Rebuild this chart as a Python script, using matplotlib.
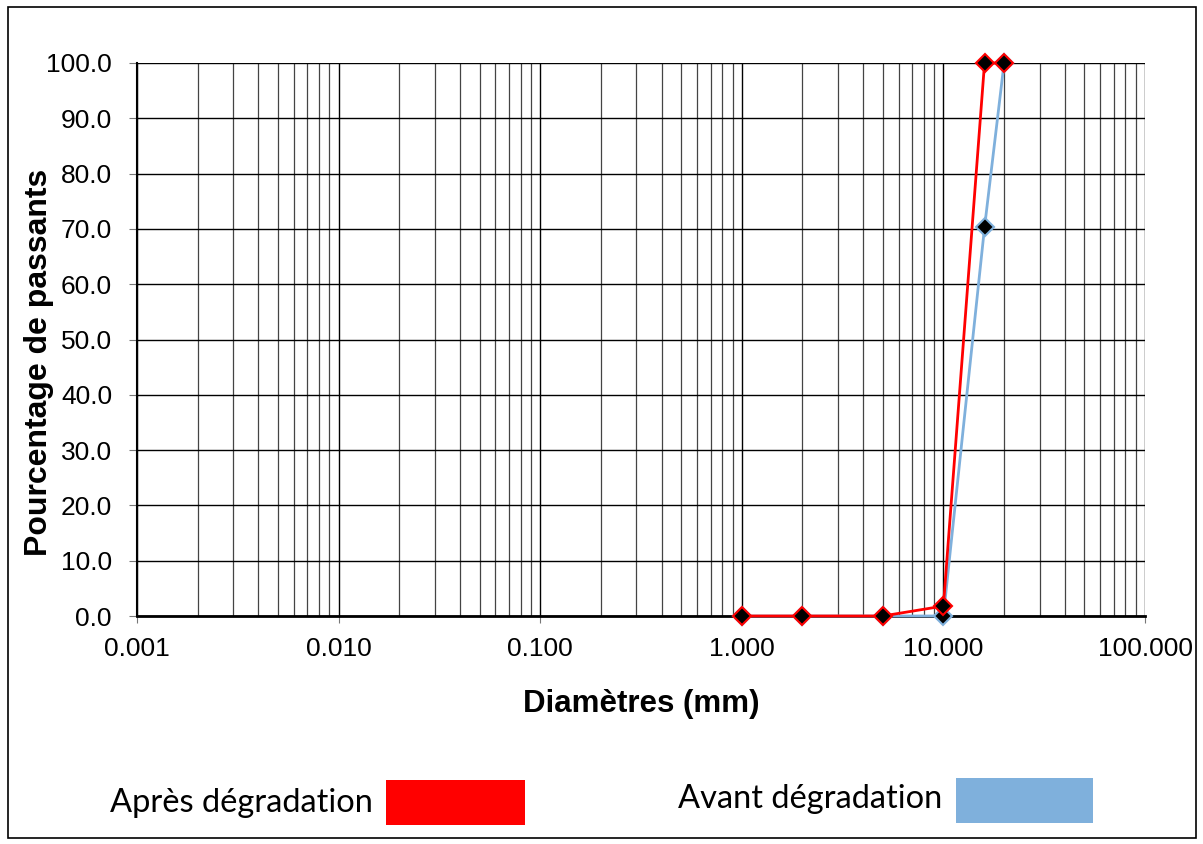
import numpy as np
import matplotlib
matplotlib.use("Agg")
import matplotlib.pyplot as plt
from matplotlib.patches import Rectangle
from matplotlib.ticker import FixedLocator, LogLocator, FuncFormatter, NullFormatter

plt.rcParams['font.family'] = ['Liberation Sans', 'DejaVu Sans']

# grain size curves
d_apres = [1.0, 2.0, 5.0, 10.0, 16.0, 20.0]
p_apres = [0.0, 0.0, 0.0, 1.8, 100.0, 100.0]
d_avant = [1.0, 2.0, 5.0, 10.0, 16.0, 20.0]
p_avant = [0.0, 0.0, 0.0, 0.0, 70.3, 100.0]

x_ticks = [0.001, 0.01, 0.1, 1, 10, 100]
x_labels = ["0.001", "0.010", "0.100", "1.000", "10.000", "100.000"]

W, H = 1203, 844
fig = plt.figure(figsize=(W / 100, H / 100), dpi=100)
ax = fig.add_axes([137 / W, 1 - 616 / H, (1145 - 137) / W, (616 - 63) / H])

ax.set_xscale("log")
ax.set_xlim(0.001, 100)
ax.set_ylim(0, 100)

ax.xaxis.set_major_locator(FixedLocator(x_ticks))
ax.set_xticklabels(x_labels)
ax.xaxis.set_minor_locator(LogLocator(base=10, subs=np.arange(2, 10)))
ax.xaxis.set_minor_formatter(NullFormatter())
ax.set_yticks(np.arange(0, 101, 10))
ax.yaxis.set_major_formatter(FuncFormatter(lambda v, p: f"{v:.1f}"))

ax.grid(True, which="major", axis="both", color="black", lw=1.0)
ax.grid(True, which="minor", axis="x", color="#444444", lw=0.9)
ax.set_axisbelow(True)

ax.tick_params(axis="both", which="major", labelsize=19, length=6, color="#777777", direction="out")
ax.tick_params(axis="x", which="major", length=5, pad=10)
ax.tick_params(axis="x", which="minor", length=0)
ax.tick_params(axis="y", pad=12)
for s in ["top", "right"]:
    ax.spines[s].set_visible(False)
ax.spines["left"].set_color("black")
ax.spines["left"].set_linewidth(1.5)
ax.spines["bottom"].set_color("black")
ax.spines["bottom"].set_linewidth(2)

ax.plot(d_avant, p_avant, color="#7fb0dc", lw=2, marker="D", ms=9,
        mfc="black", mec="#7fb0dc", mew=1.5, zorder=3, clip_on=False)
ax.plot(d_apres, p_apres, color="red", lw=2, marker="D", ms=9,
        mfc="black", mec="red", mew=1.5, zorder=4, clip_on=False)

ax.set_xlabel("Diamètres (mm)", fontsize=22.5, fontweight="bold", labelpad=20)
ax.set_ylabel("Pourcentage de passants", fontsize=23, fontweight="bold")
ax.yaxis.set_label_coords(-0.082, 0.459)

# legend drawn as text and colour boxes below the chart
leg_font = ['Lato', 'DejaVu Sans']
fig.text(110 / W, 1 - 803 / H, "Après dégradation", fontsize=23.5, family=leg_font,
         ha="left", va="center")
fig.patches.append(Rectangle((386 / W, 1 - 825 / H), (525 - 386) / W, 45 / H,
                             transform=fig.transFigure, facecolor="red", edgecolor="none"))
fig.text(678 / W, 1 - 799 / H, "Avant dégradation", fontsize=23.5, family=leg_font,
         ha="left", va="center")
fig.patches.append(Rectangle((956 / W, 1 - 823 / H), (1093 - 956) / W, 45 / H,
                             transform=fig.transFigure, facecolor="#7fb0dc", edgecolor="none"))

# outer frame
fig.patches.append(Rectangle((8 / W, 1 - 838 / H), (1196 - 8) / W, (838 - 7) / H,
                             transform=fig.transFigure, fill=False, edgecolor="black", lw=1.2))

fig.savefig("out.png", dpi=100, facecolor="white")
